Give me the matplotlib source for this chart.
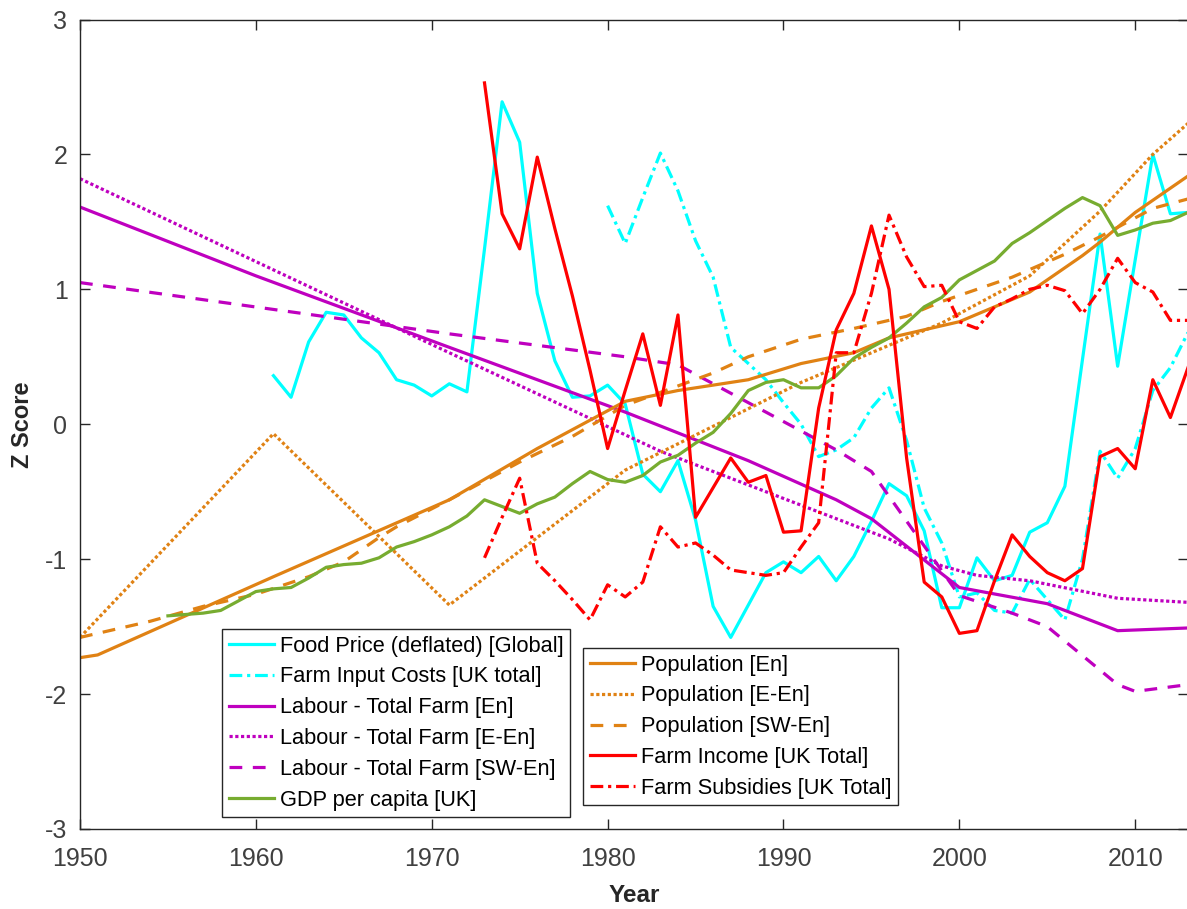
import matplotlib
matplotlib.use("Agg")
import matplotlib.pyplot as plt

plt.rcParams['font.family'] = ['Liberation Sans', 'DejaVu Sans']
plt.rcParams['axes.unicode_minus'] = False

# --- series (year, z score) ---
food_yr = list(range(1961, 2014))
food_z = [0.36, 0.20, 0.61, 0.83, 0.81, 0.64, 0.53, 0.33, 0.29, 0.21,
          0.30, 0.24, 1.30, 2.39, 2.09, 0.97, 0.47, 0.20, 0.21, 0.29,
          0.15, -0.37, -0.50, -0.27, -0.71, -1.35, -1.58, -1.34, -1.10, -1.02,
          -1.10, -0.98, -1.16, -0.98, -0.72, -0.44, -0.53, -0.79, -1.36, -1.36,
          -0.99, -1.16, -1.12, -0.80, -0.73, -0.46, 0.48, 1.41, 0.43, 1.22,
          2.00, 1.56, 1.57]

input_yr = list(range(1980, 2014))
input_z = [1.62, 1.34, 1.68, 2.01, 1.73, 1.36, 1.09, 0.57, 0.45, 0.33,
           0.16, 0.00, -0.24, -0.19, -0.10, 0.12, 0.27, -0.12, -0.62, -0.88,
           -1.28, -1.25, -1.38, -1.40, -1.15, -1.30, -1.45, -1.00, -0.20, -0.40,
           -0.18, 0.25, 0.42, 0.68]

lab_en_yr = [1950, 1960, 1971, 1981, 1988, 1993, 1995, 2000, 2005, 2009, 2013]
lab_en_z = [1.61, 1.10, 0.57, 0.09, -0.27, -0.56, -0.70, -1.21, -1.33, -1.53, -1.51]

lab_een_yr = [1950, 1971, 1983, 1993, 1996, 1999, 2001, 2004, 2009, 2013]
lab_een_z = [1.82, 0.53, -0.20, -0.70, -0.85, -1.05, -1.12, -1.16, -1.29, -1.32]

lab_swen_yr = [1950, 1971, 1981, 1984, 1986, 1993, 1995, 2000, 2003, 2005, 2009, 2010, 2013]
lab_swen_z = [1.05, 0.67, 0.50, 0.44, 0.30, -0.19, -0.35, -1.27, -1.40, -1.50, -1.93, -1.98, -1.93]

gdp_yr = list(range(1955, 2014))
gdp_z = [-1.42, -1.41, -1.40, -1.38, -1.31, -1.24, -1.22, -1.21, -1.14, -1.06,
         -1.04, -1.03, -0.99, -0.91, -0.87, -0.82, -0.76, -0.68, -0.56, -0.61,
         -0.66, -0.59, -0.54, -0.44, -0.35, -0.41, -0.43, -0.38, -0.28, -0.23,
         -0.14, -0.06, 0.08, 0.25, 0.31, 0.33, 0.27, 0.27, 0.36, 0.49,
         0.57, 0.64, 0.75, 0.87, 0.94, 1.07, 1.14, 1.21, 1.34, 1.42,
         1.51, 1.60, 1.68, 1.62, 1.40, 1.44, 1.49, 1.51, 1.57]

pop_en_yr = [1950, 1951, 1961, 1971, 1976, 1980, 1981, 1984, 1988, 1991,
             1994, 1996, 2000, 2004, 2007, 2008, 2010, 2013]
pop_en_z = [-1.73, -1.71, -1.13, -0.56, -0.18, 0.10, 0.17, 0.25, 0.33, 0.45,
            0.53, 0.64, 0.76, 0.98, 1.25, 1.35, 1.57, 1.84]

pop_een_yr = [1950, 1961, 1971, 1981, 1991, 1999, 2004, 2008, 2011, 2013]
pop_een_z = [-1.58, -0.07, -1.34, -0.34, 0.31, 0.75, 1.10, 1.58, 2.00, 2.23]

pop_swen_yr = [1950, 1952, 1954, 1957, 1960, 1963, 1965, 1967, 1968, 1971,
               1975, 1978, 1981, 1986, 1988, 1991, 1994, 1997, 1999, 2003,
               2006, 2008, 2011, 2013]
pop_swen_z = [-1.58, -1.52, -1.46, -1.35, -1.26, -1.13, -1.02, -0.84, -0.76, -0.56,
              -0.28, -0.09, 0.14, 0.38, 0.50, 0.63, 0.71, 0.80, 0.91, 1.09,
              1.26, 1.39, 1.60, 1.67]

income_yr = list(range(1973, 2014))
income_z = [2.53, 1.56, 1.30, 1.98, 1.45, 0.95, 0.40, -0.18, 0.25, 0.67,
            0.14, 0.81, -0.69, -0.47, -0.25, -0.43, -0.38, -0.80, -0.79, 0.12,
            0.70, 0.97, 1.47, 1.00, -0.25, -1.17, -1.28, -1.55, -1.53, -1.16,
            -0.82, -0.98, -1.10, -1.16, -1.07, -0.24, -0.18, -0.33, 0.33, 0.05,
            0.42]

subs_yr = list(range(1973, 2014))
subs_z = [-0.99, -0.69, -0.40, -1.03, -1.16, -1.30, -1.45, -1.19, -1.28, -1.17,
          -0.76, -0.91, -0.88, -0.97, -1.08, -1.10, -1.12, -1.10, -0.91, -0.73,
          0.53, 0.53, 0.97, 1.55, 1.24, 1.02, 1.03, 0.76, 0.71, 0.87,
          0.93, 1.00, 1.03, 0.99, 0.82, 1.00, 1.23, 1.05, 0.98, 0.77,
          0.77]

cyan = '#00FFFF'
magenta = '#BF00BF'
orange = '#E08214'
green = '#77AC30'
red = '#FF0000'

dotted = (0, (1, 0.8))
dashed = (0, (4, 3.3))
dashdot = (0, (4, 1.5, 1, 1.5))
lw = 2.3

fig = plt.figure(figsize=(11.87, 9.09), dpi=100)
ax = fig.add_axes([80 / 1187, 80 / 909, 1108 / 1187, 809.5 / 909])

h_food, = ax.plot(food_yr, food_z, color=cyan, lw=lw, label='Food Price (deflated) [Global]')
h_input, = ax.plot(input_yr, input_z, color=cyan, lw=lw, ls=dashdot, label='Farm Input Costs [UK total]')
h_len, = ax.plot(lab_en_yr, lab_en_z, color=magenta, lw=lw, label='Labour - Total Farm [En]')
h_leen, = ax.plot(lab_een_yr, lab_een_z, color=magenta, lw=lw, ls=dotted, label='Labour - Total Farm [E-En]')
h_lsw, = ax.plot(lab_swen_yr, lab_swen_z, color=magenta, lw=lw, ls=dashed, label='Labour - Total Farm [SW-En]')
h_pen, = ax.plot(pop_en_yr, pop_en_z, color=orange, lw=lw, label='Population [En]')
h_peen, = ax.plot(pop_een_yr, pop_een_z, color=orange, lw=lw, ls=dotted, label='Population [E-En]')
h_psw, = ax.plot(pop_swen_yr, pop_swen_z, color=orange, lw=lw, ls=dashed, label='Population [SW-En]')
h_gdp, = ax.plot(gdp_yr, gdp_z, color=green, lw=lw, label='GDP per capita [UK]')
h_inc, = ax.plot(income_yr, income_z, color=red, lw=lw, label='Farm Income [UK Total]')
h_sub, = ax.plot(subs_yr, subs_z, color=red, lw=lw, ls=dashdot, label='Farm Subsidies [UK Total]')

ax.set_xlim(1950, 2013)
ax.set_ylim(-3, 3)
ax.set_xticks(range(1950, 2011, 10))
ax.set_yticks(range(-3, 4))

for s in ax.spines.values():
    s.set_color('#262626')
    s.set_linewidth(1.0)
ax.tick_params(direction='in', length=7, width=1, top=True, right=True,
               labelsize=18, colors='#262626', labelcolor='#404040')
ax.tick_params(axis='x', pad=13)
ax.tick_params(axis='y', pad=9)

ax.set_xlabel('Year', fontsize=17.5, fontweight='bold', color='#262626', labelpad=9)
ax.set_ylabel('Z Score', fontsize=17, fontweight='bold', color='#262626', labelpad=8)

leg_kw = dict(fontsize=15.7, frameon=True, fancybox=False, framealpha=1,
              edgecolor='#262626', handlelength=2.1, handletextpad=0.25,
              labelspacing=0.45, borderpad=0.3, borderaxespad=0,
              bbox_transform=fig.transFigure, loc='upper left')

leg1 = ax.legend(handles=[h_food, h_input, h_len, h_leen, h_lsw, h_gdp],
                 bbox_to_anchor=(222 / 1187, 1 - 629 / 909), **leg_kw)
leg1.get_frame().set_linewidth(1.0)
ax.add_artist(leg1)

leg2 = ax.legend(handles=[h_pen, h_peen, h_psw, h_inc, h_sub],
                 bbox_to_anchor=(583 / 1187, 1 - 648 / 909), **leg_kw)
leg2.get_frame().set_linewidth(1.0)

fig.savefig('out.png', dpi=100)
